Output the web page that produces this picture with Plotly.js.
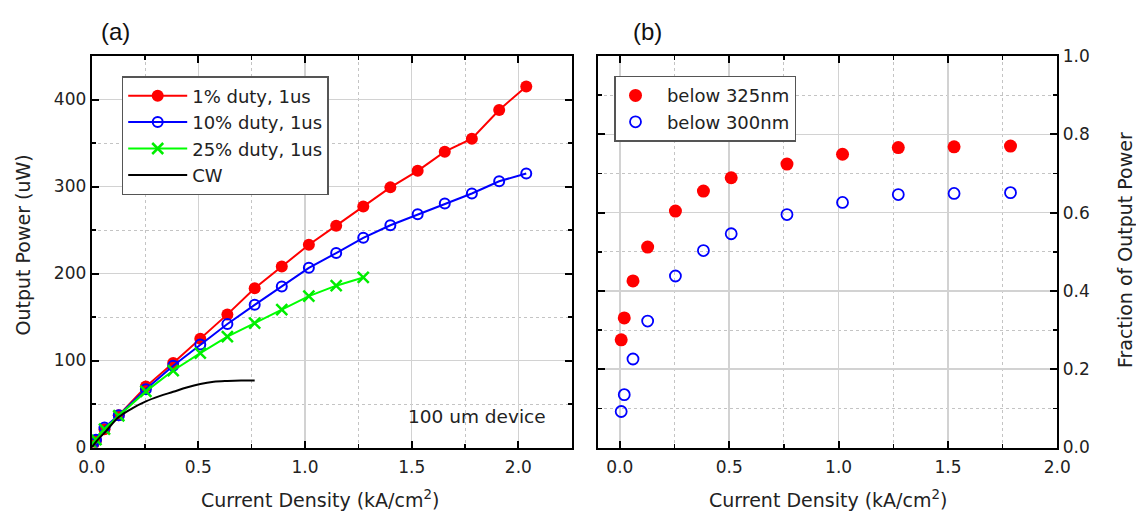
<!DOCTYPE html>
<html>
<head>
<meta charset="utf-8">
<script src="https://cdn.plot.ly/plotly-3.0.1.min.js"></script>
<style>html,body{margin:0;padding:0;background:#fff;}#chart{width:1136px;height:517px;}</style>
</head>
<body>
<div id="chart"></div>
<script>
// ---- Panel (a) data ----
const xPulsed = [0.006, 0.02, 0.06, 0.127, 0.254, 0.382, 0.509, 0.636, 0.764, 0.891, 1.018, 1.146, 1.273, 1.4, 1.528, 1.655, 1.782, 1.91, 2.037];
const duty1 = [3, 8, 21, 37, 70, 97, 125, 153, 183, 208, 233, 255, 277, 299, 318, 340, 355, 388, 415];
const duty10 = [4, 9, 23, 37, 67, 94, 118.5, 142, 164, 185, 206.5, 223.5, 241, 255.5, 268, 280.5, 292, 306, 315];
const xDuty25 = [0.006, 0.02, 0.06, 0.127, 0.254, 0.382, 0.509, 0.636, 0.764, 0.891, 1.018, 1.146, 1.273];
const duty25 = [3, 9, 21, 36.5, 64.5, 88.5, 108.5, 127.5, 143, 158.5, 174, 186, 195.5];
const xCW = [0, 0.025, 0.064, 0.127, 0.19, 0.254, 0.318, 0.382, 0.445, 0.509, 0.572, 0.636, 0.7, 0.764];
const cw = [0, 8, 18, 35, 45, 53, 59, 64, 69, 73, 75.5, 76.5, 77, 77];
// ---- Panel (b) data ----
const xFrac = [0.006, 0.02, 0.06, 0.127, 0.254, 0.382, 0.509, 0.764, 1.018, 1.273, 1.528, 1.786];
const below325 = [0.275, 0.331, 0.4255, 0.512, 0.604, 0.655, 0.689, 0.724, 0.749, 0.766, 0.768, 0.770];
const below300 = [0.092, 0.135, 0.226, 0.323, 0.438, 0.503, 0.546, 0.595, 0.626, 0.646, 0.649, 0.651];
// ---- labels ----
const namesA = ['1% duty, 1us', '10% duty, 1us', '25% duty, 1us', 'CW'];
const namesB = ['below 325nm', 'below 300nm'];

const FONT = 'DejaVu Sans';
const PAD = '\u00a0\u00a0';
const traces = [
  {x: xPulsed, y: duty1, name: namesA[0], type: 'scatter', mode: 'lines+markers',
   line: {color: '#ff0000', width: 2}, marker: {symbol: 'circle', size: 12, color: '#ff0000'},
   xaxis: 'x', yaxis: 'y', legend: 'legend'},
  {x: xPulsed, y: duty10, name: namesA[1], type: 'scatter', mode: 'lines+markers',
   line: {color: '#0000ff', width: 2}, marker: {symbol: 'circle-open', size: 10, color: '#0000ff', line: {width: 2}},
   xaxis: 'x', yaxis: 'y', legend: 'legend'},
  {x: xDuty25, y: duty25, name: namesA[2], type: 'scatter', mode: 'lines+markers',
   line: {color: '#00ff00', width: 2}, marker: {symbol: 'x-thin-open', size: 11, color: '#00ee00', line: {width: 2.5, color: '#00ee00'}},
   xaxis: 'x', yaxis: 'y', legend: 'legend'},
  {x: xCW, y: cw, name: namesA[3], type: 'scatter', mode: 'lines',
   line: {color: '#000000', width: 2, shape: 'spline'},
   xaxis: 'x', yaxis: 'y', legend: 'legend'},
  {x: xFrac, y: below325, name: PAD + namesB[0], type: 'scatter', mode: 'markers',
   marker: {symbol: 'circle', size: 13, color: '#ff0000'},
   xaxis: 'x2', yaxis: 'y2', legend: 'legend2'},
  {x: xFrac, y: below300, name: PAD + namesB[1], type: 'scatter', mode: 'markers',
   marker: {symbol: 'circle-open', size: 11, color: '#0000ff', line: {width: 1.8}},
   xaxis: 'x2', yaxis: 'y2', legend: 'legend2'}
];

function axisBase() {
  return {
    showline: true, linecolor: '#000', linewidth: 2, mirror: 'allticks',
    ticks: 'inside', ticklen: 7, tickwidth: 2, tickcolor: '#000',
    showgrid: true, gridcolor: '#d2d2d2', gridwidth: 1.5,
    zeroline: false,
    tickfont: {family: FONT, size: 17, color: '#222'},
    minor: {ticks: 'inside', ticklen: 4, tickwidth: 1.5, tickcolor: '#000', showgrid: true, gridcolor: '#c4c4c4', griddash: 'dot', gridwidth: 1}
  };
}

const yTop = 56, yBot = 447.5;
const xa = Object.assign(axisBase(), {domain: [91.7/1136, 571.7/1136], range: [0, 2.25], dtick: 0.5, tickformat: '.1f', anchor: 'y', ticklabelstandoff: 3});
xa.minor.dtick = 0.25;
const ya = Object.assign(axisBase(), {domain: [1 - yBot/517, 1 - yTop/517], range: [0, 450], dtick: 100, anchor: 'x'});
ya.minor.dtick = 50;
const xb = Object.assign(axisBase(), {domain: [598/1136, 1057.3/1136], range: [-0.1, 2.0], tick0: 0, dtick: 0.5, tickformat: '.1f', anchor: 'y2', ticklabelstandoff: 3});
xb.minor.dtick = 0.25; xb.minor.tick0 = 0;
const yb = Object.assign(axisBase(), {domain: [1 - yBot/517, 1 - yTop/517], range: [0, 1], dtick: 0.2, tickformat: '.1f', side: 'right', anchor: 'x2'});
yb.minor.dtick = 0.1;

const annFont = {family: FONT, size: 19, color: '#222'};
function ann(text, px, py, extra) {
  return Object.assign({text: text, x: px/1136, y: 1 - py/517, xref: 'paper', yref: 'paper',
    xanchor: 'center', yanchor: 'middle', showarrow: false, font: annFont}, extra || {});
}
const layout = {
  width: 1136, height: 517,
  margin: {l: 0, r: 0, t: 0, b: 0},
  paper_bgcolor: '#fff', plot_bgcolor: '#fff',
  xaxis: xa, yaxis: ya, xaxis2: xb, yaxis2: yb,
  showlegend: true,
  legend: {x: 121.7/1136, y: 1 - 76/517, xanchor: 'left', yanchor: 'top', bgcolor: '#fff',
    bordercolor: '#555', borderwidth: 1.5, font: {family: FONT, size: 18, color: '#222'}, itemwidth: 59, tracegroupgap: 0},
  legend2: {x: 614/1136, y: 1 - 75.7/517, xanchor: 'left', yanchor: 'top', bgcolor: '#fff',
    bordercolor: '#555', borderwidth: 1.5, font: {family: FONT, size: 18, color: '#222'}},
  annotations: [
    ann('(a)', 115, 31, {font: {family: 'Liberation Sans', size: 24, color: '#111'}}),
    ann('(b)', 647, 31, {font: {family: 'Liberation Sans', size: 24, color: '#111'}}),
    ann('Current Density (kA/cm<sup>2</sup>)', 320, 499),
    ann('Current Density (kA/cm<sup>2</sup>)', 828, 499),
    ann('Output Power (uW)', 22.5, 245, {textangle: -90}),
    ann('Fraction of Output Power', 1125, 250, {textangle: -90}),
    {text: '100 um device', x: 2.14, y: 35.5, xref: 'x', yref: 'y', xanchor: 'right', yanchor: 'middle', showarrow: false,
     font: {family: FONT, size: 18.5, color: '#222'}}
  ]
};

Plotly.newPlot('chart', traces, layout, {displayModeBar: false, staticPlot: true});
</script>
</body>
</html>
